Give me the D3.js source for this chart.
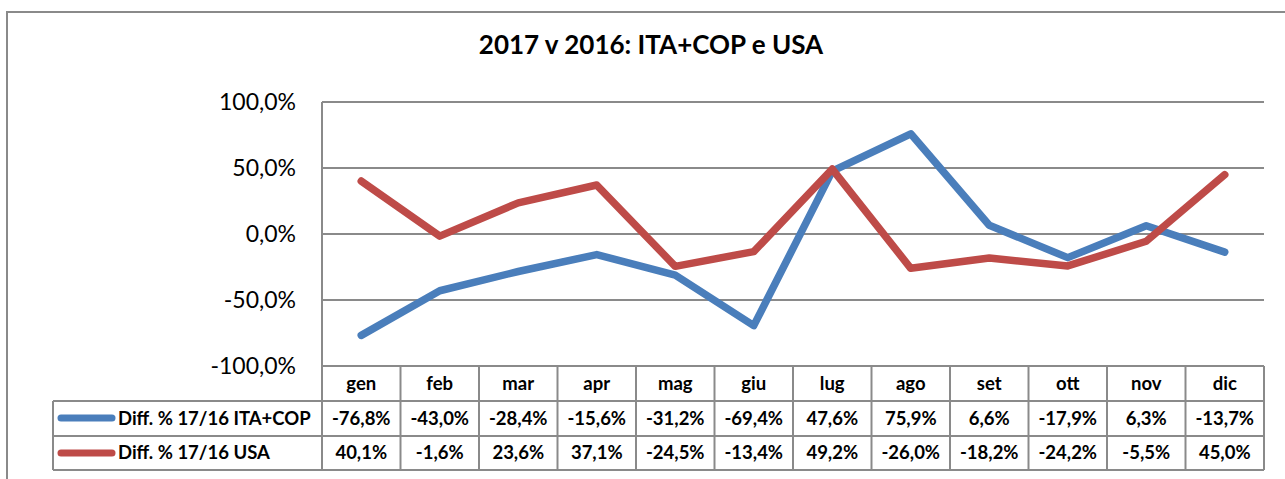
<!DOCTYPE html>
<html>
<head>
<meta charset="utf-8">
<script src="https://cdnjs.cloudflare.com/ajax/libs/d3/7.8.5/d3.min.js"></script>
<style>
  body { margin: 0; background: #fff; }
  svg { display: block; }
</style>
</head>
<body>
<div id="chart"></div>
<script>
var months = ["gen", "feb", "mar", "apr", "mag", "giu", "lug", "ago", "set", "ott", "nov", "dic"];
var itaCop = [-76.8, -43.0, -28.4, -15.6, -31.2, -69.4, 47.6, 75.9, 6.6, -17.9, 6.3, -13.7];
var usa = [40.1, -1.6, 23.6, 37.1, -24.5, -13.4, 49.2, -26.0, -18.2, -24.2, -5.5, 45.0];
var yTicks = [-100, -50, 0, 50, 100];

var series = [
    {name: "Diff. % 17/16 ITA+COP", values: itaCop, color: "#4a7ebb"},
    {name: "Diff. % 17/16 USA", values: usa, color: "#be4b48"}
];

var W = 1285, H = 479;
var font = "Lato, 'Open Sans', sans-serif";
var gridColor = "#8a8a8a";

var plot = {left: 322, right: 1264, top: 102, bottom: 366};
var tableLeft = 53;
var rowH = [366, 401, 436, 470];

var svg = d3.select("#chart")
    .append("svg")
    .attr("width", W)
    .attr("height", H);

// outer frame
svg.append("rect")
    .attr("x", 7).attr("y", 12)
    .attr("width", 1290).attr("height", 500)
    .attr("fill", "none")
    .attr("stroke", gridColor)
    .attr("stroke-width", 2);

svg.append("text")
    .attr("x", 651).attr("y", 54)
    .attr("text-anchor", "middle")
    .attr("font-family", font)
    .attr("font-weight", "bold")
    .attr("font-size", 26)
    .attr("fill", "#000")
    .text("2017 v 2016: ITA+COP e USA");

var xAxis = d3.scaleBand()
    .domain(months)
    .range([plot.left, plot.right]);

var yAxis = d3.scaleLinear()
    .domain([-100, 100])
    .range([plot.bottom, plot.top]);

// gridlines
svg.append("g")
    .selectAll("line")
    .data(yTicks)
    .enter()
    .append("line")
    .attr("x1", plot.left).attr("x2", plot.right)
    .attr("y1", function (d) { return yAxis(d); })
    .attr("y2", function (d) { return yAxis(d); })
    .attr("stroke", gridColor)
    .attr("stroke-width", 2);

// y labels
var fmt = function (v) { return d3.format(".1f")(v).replace(".", ",").replace("−", "-") + "%"; };
svg.append("g")
    .selectAll("text")
    .data(yTicks)
    .enter()
    .append("text")
    .attr("x", 296)
    .attr("y", function (d) { return yAxis(d) + 8; })
    .attr("text-anchor", "end")
    .attr("font-family", font)
    .attr("font-size", 23)
    .attr("fill", "#000")
    .text(fmt);

// table grid
var tg = svg.append("g")
    .attr("stroke", gridColor)
    .attr("stroke-width", 2);

tg.append("line")
    .attr("x1", plot.left).attr("x2", plot.left)
    .attr("y1", plot.top).attr("y2", rowH[3]);
tg.append("line")
    .attr("x1", plot.right).attr("x2", plot.right)
    .attr("y1", rowH[0]).attr("y2", rowH[3]);
tg.append("line")
    .attr("x1", tableLeft).attr("x2", tableLeft)
    .attr("y1", rowH[1]).attr("y2", rowH[3]);
tg.selectAll(".col")
    .data(months.slice(1))
    .enter()
    .append("line")
    .attr("x1", function (d) { return xAxis(d); })
    .attr("x2", function (d) { return xAxis(d); })
    .attr("y1", rowH[0]).attr("y2", rowH[3]);
[1, 2, 3].forEach(function (i) {
    tg.append("line")
        .attr("x1", tableLeft).attr("x2", plot.right)
        .attr("y1", rowH[i]).attr("y2", rowH[i]);
});

// month headers
svg.append("g")
    .selectAll("text")
    .data(months)
    .enter()
    .append("text")
    .attr("x", function (d) { return xAxis(d) + xAxis.bandwidth() / 2; })
    .attr("y", 390)
    .attr("text-anchor", "middle")
    .attr("font-family", font)
    .attr("font-weight", "bold")
    .attr("font-size", 18.5)
    .attr("fill", "#000")
    .text(function (d) { return d; });

// lines
var line = d3.line()
    .x(function (d, i) { return xAxis(months[i]) + xAxis.bandwidth() / 2; })
    .y(function (d) { return yAxis(d); });

series.forEach(function (s, k) {
    svg.append("path")
        .datum(s.values)
        .attr("d", line)
        .attr("fill", "none")
        .attr("stroke", s.color)
        .attr("stroke-width", 7.5)
        .attr("stroke-linejoin", "round")
        .attr("stroke-linecap", "round");

    var yText = k === 0 ? 425 : 459;
    var yKey = k === 0 ? 418 : 453;

    svg.append("line")
        .attr("x1", 61).attr("x2", 112)
        .attr("y1", yKey).attr("y2", yKey)
        .attr("stroke", s.color)
        .attr("stroke-width", 7)
        .attr("stroke-linecap", "round");

    svg.append("text")
        .attr("x", 118).attr("y", yText)
        .attr("font-family", font)
        .attr("font-weight", "bold")
        .attr("font-size", 18.5)
        .attr("fill", "#000")
        .text(s.name);

    svg.append("g")
        .selectAll("text")
        .data(s.values)
        .enter()
        .append("text")
        .attr("x", function (d, i) { return xAxis(months[i]) + xAxis.bandwidth() / 2; })
        .attr("y", yText)
        .attr("text-anchor", "middle")
        .attr("font-family", font)
        .attr("font-weight", "bold")
        .attr("font-size", 18.5)
        .attr("fill", "#000")
        .text(fmt);
});
</script>
</body>
</html>
